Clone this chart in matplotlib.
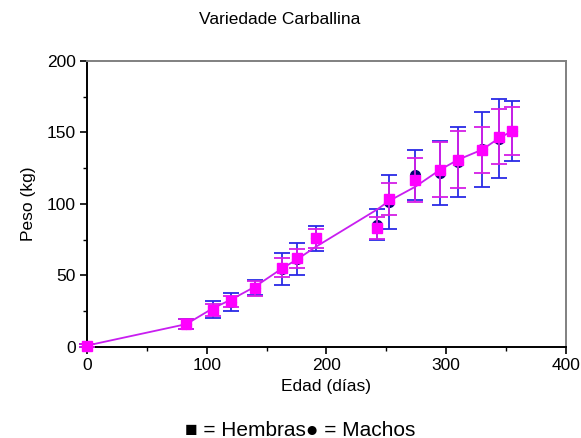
import matplotlib
matplotlib.use('Agg')
import matplotlib.pyplot as plt
from matplotlib.ticker import MultipleLocator

plt.rcParams['font.family'] = ['Liberation Sans', 'DejaVu Sans']

# edad (días)
edad = [0, 83, 105, 120, 140, 163, 175, 191, 242, 252, 274, 295, 310, 330, 344, 355]

# hembras: media y desviación
hembras = [1, 16, 26, 32, 41, 55.5, 62, 76, 83.5, 103.5, 117, 124, 131, 137.5, 147, 151]
hembras_sd = [1, 3.5, 4, 3.7, 5.3, 6.5, 6.8, 6.5, 7.7, 11.5, 15.4, 19, 19.8, 16.1, 19.2, 17]

# machos: media y desviación
machos = [1, 16, 26, 31.5, 41.5, 54.5, 61.5, 76, 85.5, 101.3, 120.5, 121.4, 129.4, 138.3, 145.7, 151]
machos_sd = [1, 3.7, 6, 6.4, 5.2, 11, 11.3, 8.7, 10.7, 19, 17.5, 22.4, 24.7, 26.2, 27.5, 21]

# curva de ajuste
ajuste = [1, 16, 27, 33, 42, 55, 61, 70, 96, 102, 112, 124, 131, 138, 146, 151]

fig = plt.figure(figsize=(5.81, 4.38), dpi=100)
ax = fig.add_axes([0.1497, 0.2078, 0.8245, 0.653])

ax.errorbar(edad, machos, yerr=machos_sd, fmt='o', color='#000070', markersize=7,
            ecolor='#2a2ae6', elinewidth=1.3, capsize=5.5, capthick=1.3, zorder=2, clip_on=False)
ax.plot(edad, ajuste, '-', color='#c81ef0', linewidth=1.3, zorder=3)
ax.errorbar(edad, hembras, yerr=hembras_sd, fmt='s', color='#ff00ff', markersize=7.8,
            ecolor='#d41ee6', elinewidth=1.3, capsize=5.5, capthick=1.3, zorder=4, clip_on=False)

ax.set_xlim(0, 400)
ax.set_ylim(0, 200)
ax.xaxis.set_major_locator(MultipleLocator(100))
ax.xaxis.set_minor_locator(MultipleLocator(50))
ax.yaxis.set_major_locator(MultipleLocator(50))
ax.yaxis.set_minor_locator(MultipleLocator(25))
ax.tick_params(which='major', direction='out', length=5, width=1.2, labelsize=12.5, pad=3)
ax.tick_params(which='minor', direction='out', length=3, width=1)

for s in ['left', 'bottom']:
    ax.spines[s].set_linewidth(1.4)
    ax.spines[s].set_color('black')
for s in ['top', 'right']:
    ax.spines[s].set_linewidth(1.4)
    ax.spines[s].set_color('#808080')

ax.set_xlabel('Edad (días)', fontsize=12.5, labelpad=4)
ax.set_ylabel('Peso (kg)', fontsize=12.5, labelpad=8)

fig.text(280 / 581, 1 - 20 / 438, 'Variedade Carballina', ha='center', va='center', fontsize=12.5)
fig.text(300 / 581, 1 - 430 / 438, '■ = Hembras● = Machos', ha='center', va='center',
         fontsize=15)

fig.savefig('out.png', dpi=100)
